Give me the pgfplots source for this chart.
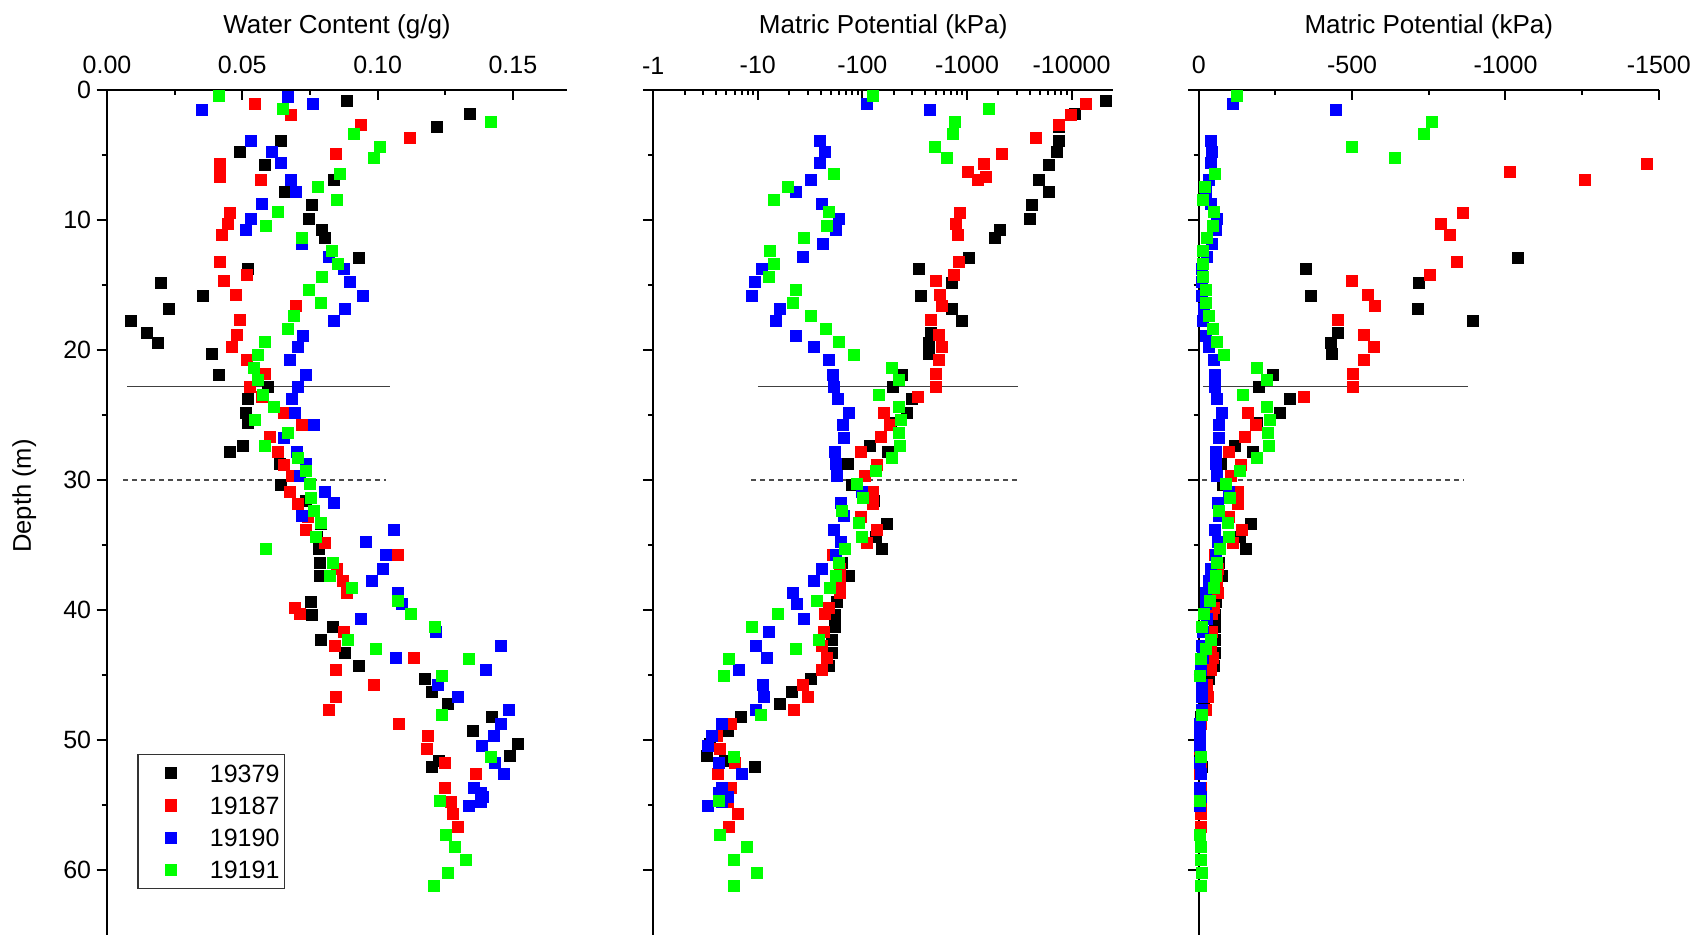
\documentclass[border=0pt]{standalone}
\usepackage{fontspec}
\setmainfont{Liberation Sans}
\usepackage{pgfplots}
\usepackage{pgfplotstable}
\pgfplotsset{compat=1.18}
\definecolor{ored}{RGB}{255,0,0}
\definecolor{oblue}{RGB}{0,0,255}
\definecolor{ogreen}{RGB}{0,255,0}

\pgfplotstableread{
d wc mp
0.82 0.0888 21100
1.85 0.1342 10800
2.85 0.1219 7620
3.95 0.0641 7620
4.79 0.0492 7200
5.79 0.0584 6010
6.95 0.0840 4830
7.85 0.0659 6110
8.82 0.0759 4130
9.92 0.0747 4000
10.79 0.0795 2080
11.38 0.0804 1830
12.92 0.0930 1041
13.77 0.0522 348
14.82 0.0200 719
15.85 0.0355 365
16.85 0.0229 716
17.79 0.0088 895
18.67 0.0149 454
19.49 0.0188 430
20.28 0.0389 434
21.90 0.0415 241
22.80 0.0593 196
23.77 0.0522 297
24.87 0.0515 266
25.60 0.0521 188
27.36 0.0503 117
27.87 0.0455 175
28.74 0.0638 72
30.36 0.0641 80
31.60 0.0735 128
33.36 0.0790 171
34.41 0.0775 134
35.33 0.0784 154
36.36 0.0786 64
37.36 0.0786 75
39.40 0.0753 57
40.36 0.0756 54
41.33 0.0834 54
42.33 0.0789 51.6
43.28 0.0881 51.6
44.28 0.0930 48.3
45.28 0.1175 31.9
46.31 0.1200 21
47.26 0.1260 16.2
48.26 0.1423 6.95
49.28 0.1351 5.14
50.31 0.1520 3.5
51.26 0.1489 3.26
51.64 0.1226 4.82
52.05 0.1200 9.48
}\tblk

\pgfplotstableread{
d wc mp
1.10 0.0548 13700
1.95 0.0681 9890
2.72 0.0940 7620
3.69 0.1120 4520
4.95 0.0847 2150
5.72 0.0416 1462
6.30 0.0416 1014
6.70 0.0416 1520
6.95 0.0570 1260
9.44 0.0455 861
10.31 0.0447 789
11.18 0.0426 818
13.20 0.0416 840
14.20 0.0518 753
14.69 0.0433 500
15.79 0.0477 550
16.59 0.0697 575
17.72 0.0493 452
18.87 0.0481 539
19.79 0.0463 570
20.79 0.0518 539
21.85 0.0585 502
22.80 0.0529 502
23.64 0.0571 342
24.87 0.0652 159
25.77 0.0722 185
26.67 0.0601 150
27.87 0.0633 96.7
28.80 0.0652 137
29.69 0.0685 105
30.90 0.0677 126
31.87 0.0704 127
32.85 0.0744 96.7
33.85 0.0736 139
34.87 0.0807 111
35.77 0.1075 52.5
36.87 0.0849 61.2
37.74 0.0870 60.3
38.72 0.0885 61.2
39.80 0.0695 48
40.33 0.0712 43.8
41.69 0.0875 42.4
42.79 0.0844 40.8
43.67 0.1133 45.7
44.64 0.0847 40.8
45.79 0.0986 26.7
46.67 0.0847 29.9
47.67 0.0820 22.3
48.74 0.1078 5.53
49.67 0.1185 4.03
50.69 0.1182 4.3
51.77 0.1249 6.1
52.64 0.1364 4.13
53.67 0.1248 5.53
54.74 0.1270 5.23
55.72 0.1278 6.41
56.69 0.1297 5.31
}\tred

\pgfplotstableread{
d wc mp
0.51 0.0670 nan
1.10 0.0760 111
1.51 0.0349 446
3.90 0.0530 39.4
4.79 0.0608 44.2
5.62 0.0644 39.4
6.95 0.0681 32.2
7.82 0.0699 23.0
8.79 0.0573 40.7
9.90 0.0530 60.2
10.79 0.0512 56.0
11.82 0.0722 42.1
12.87 0.0821 26.7
13.79 0.0877 10.9
14.79 0.0899 9.3
15.85 0.0944 8.8
16.82 0.0878 16.1
17.79 0.0837 14.8
18.90 0.0725 23.0
19.79 0.0704 34.3
20.79 0.0677 48.0
21.90 0.0736 52.0
22.80 0.0707 53.3
23.77 0.0682 57.8
24.87 0.0695 73.9
25.77 0.0766 64.8
26.74 0.0652 65.9
27.87 0.0701 54.2
28.74 0.0734 55.6
29.72 0.0712 57.4
30.90 0.0804 98.2
31.74 0.0840 62.8
32.77 0.0719 65.9
33.85 0.1059 53.3
34.75 0.0958 62.8
35.77 0.1029 55.6
36.82 0.1018 40.7
37.74 0.0978 34.3
38.72 0.1074 21.8
39.55 0.1089 23.6
40.67 0.0937 27.5
41.72 0.1214 12.8
42.79 0.1456 9.5
43.67 0.1068 12.2
44.64 0.1400 6.62
45.79 0.1223 11.2
46.67 0.1297 11.5
47.67 0.1486 9.5
48.74 0.1455 4.51
49.67 0.1430 3.65
50.46 0.1384 3.34
51.77 0.1432 4.26
52.64 0.1466 7.07
53.67 0.1356 4.55
54.10 0.1381 4.27
54.40 0.1390 5.23
54.74 0.1381 4.5
55.08 0.1337 3.31
}\tblu

\pgfplotstableread{
d wc mp
0.46 0.0414 125
1.44 0.0651 1607
2.46 0.1420 761
3.41 0.0914 734
4.41 0.1007 498
5.23 0.0985 639
6.44 0.0859 52.9
7.44 0.0778 19.3
8.44 0.0851 14.2
9.41 0.0633 47.6
10.44 0.0589 45.3
11.38 0.0719 27.3
12.38 0.0830 13.1
13.38 0.0853 14.1
14.41 0.0796 12.7
15.38 0.0745 23.0
16.38 0.0789 21.6
17.38 0.0689 31.9
18.41 0.0667 44.9
19.41 0.0584 59.3
20.36 0.0559 83.4
21.38 0.0544 190
22.30 0.0556 222
23.44 0.0577 145
24.36 0.0618 222
25.36 0.0548 233
26.38 0.0668 224
27.36 0.0585 230
28.33 0.0704 190
29.33 0.0736 135
30.33 0.0751 88.3
31.36 0.0753 101
32.36 0.0764 64.3
33.33 0.0789 93.5
34.36 0.0771 99
35.33 0.0588 68.7
36.36 0.0834 59.7
37.36 0.0823 56.0
38.31 0.0905 48.7
39.33 0.1075 36.6
40.31 0.1122 15.7
41.33 0.1212 8.8
42.31 0.0892 38.5
43.03 0.0992 23.2
43.77 0.1337 5.3
45.08 0.1237 4.74
48.08 0.1238 10.8
51.33 0.1419 5.86
54.67 0.1229 4.26
57.28 0.1252 4.33
58.26 0.1285 7.9
59.26 0.1325 5.96
60.23 0.1259 9.9
61.26 0.1208 5.96
}\tgrn

\pgfplotsset{
  panel/.style={
    scale only axis, width=230pt, height=422.5pt,
    anchor=north west,
    ymin=0, ymax=65, y dir=reverse,
    axis x line=top, axis y line=left,
    axis line style={-, line width=1.1pt, black},
    xtick align=inside, ytick align=outside,
    major tick length=5.2pt, minor tick length=2.6pt,
    every tick/.style={black, line width=1pt},
    ytick={0,10,20,30,40,50,60}, minor y tick num=1,
    tick label style={font=\fontsize{12.5}{14}\selectfont},
    yticklabel style={xshift=0.8pt},
    xticklabel shift=4.4pt,
    xlabel style={font=\fontsize{13}{15}\selectfont, at={(axis description cs:0.5,1)}, anchor=base, yshift=28.5pt},
    /pgf/number format/assume math mode=true,
    clip=true,
    after end axis/.code={\draw[line width=1.1pt] (axis description cs:0,1) -- ++(-5.2pt,0pt);},
  },
  sq/.style={only marks, mark=square*, mark size=2.75pt, color=#1, mark options={draw=none, fill=#1}},
  hsolid/.style={forget plot, no marks, black!75, line width=0.65pt},
  hdash/.style={forget plot, no marks, black!70, line width=0.65pt, dash pattern=on 2.5pt off 2pt},
}

\begin{document}
\begin{tikzpicture}
\path[use as bounding box] (0pt,0pt) rectangle (849.5pt,-467.5pt);

% Panel 1
\begin{axis}[panel, at={(53.5pt,-45pt)},
  xmin=0, xmax=0.17,
  xtick={0,0.05,0.1,0.15}, xticklabels={0.00,0.05,0.10,0.15},
  minor x tick num=1,
  xlabel={Water Content (g/g)},
  ylabel={Depth (m)},
  ylabel style={font=\fontsize{12.8}{15}\selectfont, at={(axis description cs:-0.180,0.5195)}, anchor=center},
  yticklabels={0,10,20,30,40,50,60},
  legend cell align=left,
  legend image code/.code={\path[draw=none] (-13.75pt,0pt) -- (2.75pt,0pt); \draw[#1] plot coordinates {(0pt,0pt)};},
  legend style={at={(axis description cs:0.0659,0.0544)}, anchor=south west,
    draw=black!80, line width=0.6pt, fill=white, inner xsep=2.6pt, inner ysep=4.8pt,
    row sep=7.1pt, column sep=16.9pt,
    font=\fontsize{12.5}{14}\selectfont,
    nodes={inner sep=0pt, text height=9pt, text depth=0pt}},
]
\addplot[hsolid] coordinates {(0.0075,22.8) (0.1047,22.8)};
\addplot[hdash] coordinates {(0.006,30) (0.103,30)};
\addplot[sq=black] table[x=wc, y=d] {\tblk};
\addplot[sq=ored] table[x=wc, y=d] {\tred};
\addplot[sq=oblue] table[x=wc, y=d] {\tblu};
\addplot[sq=ogreen] table[x=wc, y=d] {\tgrn};
\legend{19379,19187,19190,19191}
\end{axis}

% Panel 2
\begin{axis}[panel, at={(326.6pt,-45pt)},
  xmode=log, xmin=1, xmax=25000,
  xtick={1,10,100,1000,10000}, xticklabels={-1,-10,-100,-1000,-10000},
  xlabel={Matric Potential (kPa)},
  yticklabels={},
]
\addplot[hsolid] coordinates {(10,22.8) (3050,22.8)};
\addplot[hdash] coordinates {(8.7,30) (3000,30)};
\addplot[sq=black] table[x=mp, y=d] {\tblk};
\addplot[sq=ored] table[x=mp, y=d] {\tred};
\addplot[sq=oblue] table[x=mp, y=d] {\tblu};
\addplot[sq=ogreen] table[x=mp, y=d] {\tgrn};
\end{axis}

% Panel 3
\begin{axis}[panel, at={(599.4pt,-45pt)},
  xmin=0, xmax=1500,
  xtick={0,500,1000,1500}, xticklabels={0,-500,-1000,-1500},
  minor x tick num=1,
  xlabel={Matric Potential (kPa)},
  yticklabels={},
]
\addplot[hsolid] coordinates {(14,22.8) (877,22.8)};
\addplot[hdash] coordinates {(10.8,30) (866,30)};
\addplot[sq=black] table[x=mp, y=d] {\tblk};
\addplot[sq=ored] table[x=mp, y=d] {\tred};
\addplot[sq=oblue] table[x=mp, y=d] {\tblu};
\addplot[sq=ogreen] table[x=mp, y=d] {\tgrn};
\end{axis}
\end{tikzpicture}
\end{document}
